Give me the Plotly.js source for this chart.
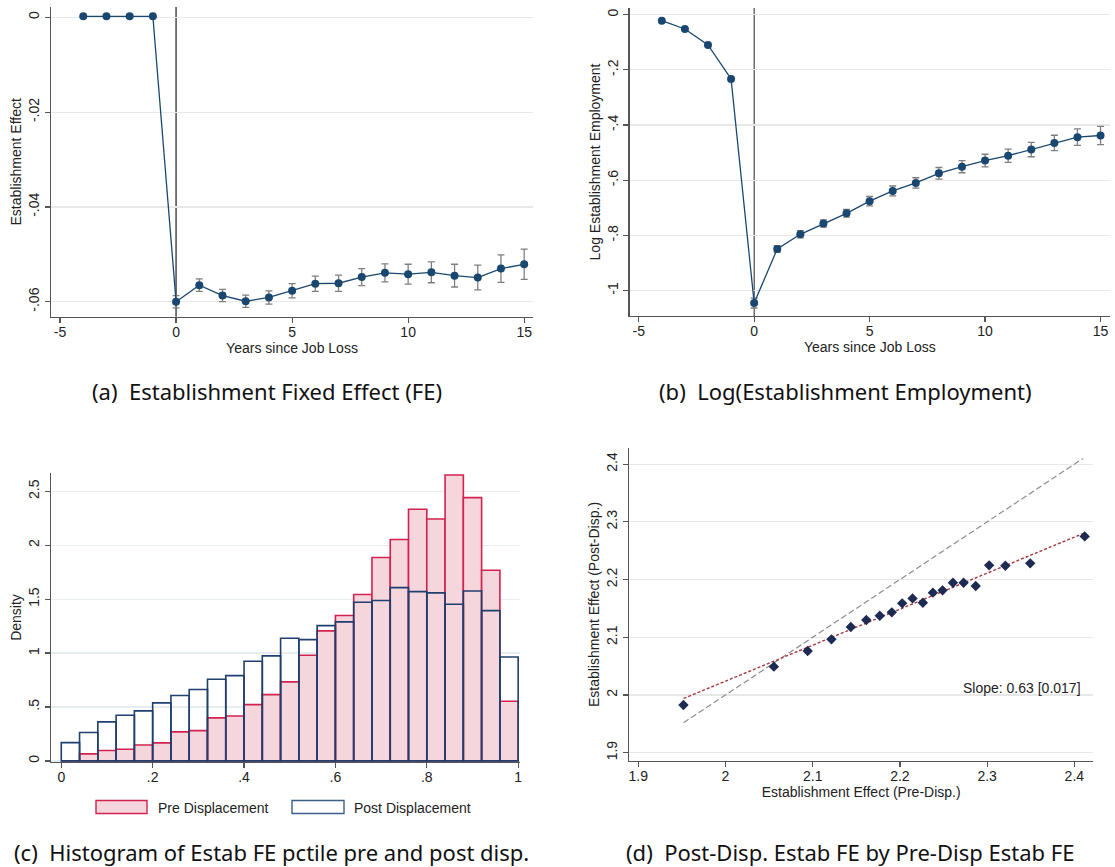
<!DOCTYPE html>
<html>
<head>
<meta charset="utf-8">
<script src="https://cdn.plot.ly/plotly-3.0.1.min.js"></script>
<style>
  html, body { margin: 0; padding: 0; background: #fff; }
  #chart { width: 1115px; height: 867px; }
</style>
</head>
<body>
<div id="chart"></div>
<script>
// ---------- Data ----------
// Panels (a) and (b): event-study coefficients by year relative to job loss
const years = [-4, -3, -2, -1, 0, 1, 2, 3, 4, 5, 6, 7, 8, 9, 10, 11, 12, 13, 14, 15];
const estabEffect = [0.0002, 0.0002, 0.0002, 0.0002, -0.0600, -0.0565, -0.0587, -0.0599, -0.0591, -0.0577,
  -0.0562, -0.0561, -0.0548, -0.0539, -0.0542, -0.0538, -0.0545, -0.0549, -0.0530, -0.0521];
const estabEffectCI = [0, 0, 0, 0, 0.0013, 0.0013, 0.0013, 0.0013, 0.0014, 0.0015,
  0.0016, 0.0017, 0.0018, 0.0019, 0.0021, 0.0022, 0.0024, 0.0026, 0.0029, 0.0032];
const logEmployment = [-0.022, -0.052, -0.110, -0.233, -1.045, -0.849, -0.796, -0.757, -0.720, -0.676,
  -0.639, -0.610, -0.575, -0.551, -0.529, -0.511, -0.489, -0.465, -0.444, -0.438];
const logEmploymentCI = [0, 0, 0, 0, 0.018, 0.012, 0.013, 0.013, 0.014, 0.017,
  0.018, 0.019, 0.021, 0.022, 0.023, 0.024, 0.026, 0.028, 0.030, 0.033];
const jobLossYear = 0;

// Panel (c): histogram of establishment FE percentile (bin width 0.04)
const binCenters = [0.02, 0.06, 0.10, 0.14, 0.18, 0.22, 0.26, 0.30, 0.34, 0.38, 0.42, 0.46, 0.50,
  0.54, 0.58, 0.62, 0.66, 0.70, 0.74, 0.78, 0.82, 0.86, 0.90, 0.94, 0.98];
const binWidth = 0.04;
const preDensity = [0, 0.065, 0.096, 0.108, 0.148, 0.167, 0.269, 0.281, 0.399, 0.417, 0.522, 0.615, 0.733,
  0.980, 1.206, 1.348, 1.543, 1.886, 2.053, 2.334, 2.244, 2.652, 2.442, 1.768, 0.553];
const postDensity = [0.170, 0.263, 0.362, 0.424, 0.464, 0.538, 0.606, 0.662, 0.757, 0.791, 0.924, 0.974, 1.138,
  1.125, 1.255, 1.289, 1.471, 1.487, 1.607, 1.570, 1.558, 1.453, 1.576, 1.394, 0.964];

// Panel (d): binned scatter of post- vs pre-displacement establishment FE
const preFE = [1.9518, 2.0555, 2.0942, 2.1215, 2.1437, 2.1615, 2.1769, 2.1907, 2.2026, 2.2145,
  2.2263, 2.2378, 2.2489, 2.2608, 2.2730, 2.2869, 2.3023, 2.3209, 2.3494, 2.4119];
const postFE = [1.9827, 2.0491, 2.0762, 2.0964, 2.1178, 2.1299, 2.1374, 2.1432, 2.1588, 2.1674,
  2.1599, 2.1773, 2.1813, 2.1946, 2.1946, 2.1888, 2.2246, 2.2240, 2.2281, 2.2748];
const fitX = [1.952, 2.412];
const fitY = [1.994, 2.281];
const diagX = [1.952, 2.410];
const diagY = [1.952, 2.410];
const slopeLabel = 'Slope: 0.63 [0.017]';

// Tick labels
const yearTicks = [-5, 0, 5, 10, 15];
const yearTickText = ['-5', '0', '5', '10', '15'];
const effTicks = [0, -0.02, -0.04, -0.06];
const effTickText = ['0', '-.02', '-.04', '-.06'];
const empTicks = [0, -0.2, -0.4, -0.6, -0.8, -1];
const empTickText = ['0', '-.2', '-.4', '-.6', '-.8', '-1'];
const pctTicks = [0, 0.2, 0.4, 0.6, 0.8, 1];
const pctTickText = ['0', '.2', '.4', '.6', '.8', '1'];
const densTicks = [0, 0.5, 1, 1.5, 2, 2.5];
const densTickText = ['0', '.5', '1', '1.5', '2', '2.5'];
const feTicks = [1.9, 2.0, 2.1, 2.2, 2.3, 2.4];
const feTickText = ['1.9', '2', '2.1', '2.2', '2.3', '2.4'];

const captions = [
  '(a)\u00a0 Establishment Fixed Effect (FE)',
  '(b)\u00a0 Log(Establishment Employment)',
  '(c)\u00a0 Histogram of Estab FE pctile pre and post disp.',
  '(d)\u00a0 Post-Disp. Estab FE by Pre-Disp Estab FE'
];
const legendLabels = ['Pre Displacement', 'Post Displacement'];

// ---------- Styling / layout helpers ----------
const W = 1115, H = 867;
const px = v => v / W;
const py = v => 1 - v / H;
const NAVY = '#1a476f';
const AXIS = '#555555';
const TXT = '#222222';
const FONT = 'Liberation Sans, Arial, sans-serif';
const CAPFONT = 'Noto Sans, Open Sans, sans-serif';
const FS = 14;

function xax(domPx, range, vals, text, title, anchor) {
  return {
    domain: [px(domPx[0]), px(domPx[1])], range: range, anchor: anchor,
    tickmode: 'array', tickvals: vals, ticktext: text,
    ticks: 'outside', ticklen: 5, tickwidth: 1.2, tickcolor: AXIS,
    ticklabelstandoff: -3,
    showline: true, linecolor: AXIS, linewidth: 1.4, mirror: false,
    showgrid: false, zeroline: false,
    tickfont: { family: FONT, size: FS, color: TXT },
    title: { text: title, font: { family: FONT, size: FS, color: TXT }, standoff: 0 },
    automargin: false, fixedrange: true
  };
}
function yax(domPx, range, vals, text, title, anchor, gridColor) {
  return {
    domain: [py(domPx[1]), py(domPx[0])], range: range, anchor: anchor,
    tickmode: 'array', tickvals: vals, ticktext: text, tickangle: -90,
    ticks: 'outside', ticklen: 5, tickwidth: 1.2, tickcolor: AXIS,
    showline: true, linecolor: AXIS, linewidth: 1.4, mirror: false,
    showgrid: true, gridcolor: gridColor || '#e8e8e8', gridwidth: 1.2, zeroline: false,
    tickfont: { family: FONT, size: FS, color: TXT },
    title: { text: title, font: { family: FONT, size: FS, color: TXT }, standoff: 1 },
    automargin: false, fixedrange: true
  };
}

const errStyle = arr => ({ type: 'data', array: arr, visible: true, color: '#7f7f7f', thickness: 1.3, width: 3.5 });

const traces = [
  {
    x: years, y: estabEffect, xaxis: 'x', yaxis: 'y', type: 'scatter', mode: 'lines+markers',
    line: { color: NAVY, width: 1.3 }, marker: { color: NAVY, size: 8 },
    error_y: errStyle(estabEffectCI), showlegend: false, hoverinfo: 'skip'
  },
  {
    x: years, y: logEmployment, xaxis: 'x2', yaxis: 'y2', type: 'scatter', mode: 'lines+markers',
    line: { color: NAVY, width: 1.3 }, marker: { color: NAVY, size: 8 },
    error_y: errStyle(logEmploymentCI), showlegend: false, hoverinfo: 'skip'
  },
  {
    x: binCenters, y: preDensity, width: binCenters.map(() => binWidth), xaxis: 'x3', yaxis: 'y3', type: 'bar',
    marker: { color: '#f6d6dd', line: { color: '#d3224f', width: 1.6 } },
    showlegend: false, hoverinfo: 'skip'
  },
  {
    x: binCenters, y: postDensity, width: binCenters.map(() => binWidth), xaxis: 'x3', yaxis: 'y3', type: 'bar',
    marker: { color: 'rgba(0,0,0,0)', line: { color: '#1f3f6e', width: 1.6 } },
    showlegend: false, hoverinfo: 'skip'
  },
  {
    x: diagX, y: diagY, xaxis: 'x4', yaxis: 'y4', type: 'scatter', mode: 'lines',
    line: { color: '#8c8c8c', width: 1.2, dash: '6px,3px' }, showlegend: false, hoverinfo: 'skip'
  },
  {
    x: fitX, y: fitY, xaxis: 'x4', yaxis: 'y4', type: 'scatter', mode: 'lines',
    line: { color: '#a8383e', width: 1.4, dash: '3px,2px' }, showlegend: false, hoverinfo: 'skip'
  },
  {
    x: preFE, y: postFE, xaxis: 'x4', yaxis: 'y4', type: 'scatter', mode: 'markers',
    marker: { symbol: 'diamond', color: '#1d2b52', size: 8 }, showlegend: false, hoverinfo: 'skip'
  }
];

const layout = {
  width: W, height: H,
  margin: { l: 0, r: 0, t: 0, b: 0 },
  paper_bgcolor: '#ffffff', plot_bgcolor: '#ffffff',
  barmode: 'overlay', bargap: 0,
  showlegend: false,
  font: { family: FONT, size: FS, color: TXT },
  xaxis: xax([51, 533], [-5.39, 15.38], yearTicks, yearTickText, 'Years since Job Loss', 'y'),
  yaxis: yax([7, 316.7], [-0.06316, 0.00217], effTicks, effTickText, 'Establishment Effect', 'x'),
  xaxis2: xax([629.7, 1110], [-5.39, 15.41], yearTicks, yearTickText, 'Years since Job Loss', 'y2'),
  yaxis2: yax([8, 316], [-1.092, 0.024], empTicks, empTickText, 'Log Establishment Employment', 'x2'),
  xaxis3: xax([51, 520], [-0.0225, 1.004], pctTicks, pctTickText, '', 'y3'),
  yaxis3: yax([473, 762], [-0.01, 2.67], densTicks, densTickText, 'Density', 'x3', '#e6edf0'),
  xaxis4: xax([629.3, 1093], [1.8897, 2.4214], feTicks, feTickText, 'Establishment Effect (Pre-Disp.)', 'y4'),
  yaxis4: yax([448, 761], [1.8856, 2.428], feTicks, feTickText, 'Establishment Effect (Post-Disp.)', 'x4'),
  shapes: [
    { type: 'line', xref: 'x', yref: 'y domain', x0: jobLossYear, x1: jobLossYear, y0: 0, y1: 1,
      line: { color: '#555555', width: 1.6 }, layer: 'below' },
    { type: 'line', xref: 'x2', yref: 'y2 domain', x0: jobLossYear, x1: jobLossYear, y0: 0, y1: 1,
      line: { color: '#222222', width: 1 }, layer: 'below' },
    // legend keys for panel (c)
    { type: 'rect', xref: 'paper', yref: 'paper', x0: px(96), x1: px(147), y0: py(813.5), y1: py(800.5),
      fillcolor: '#f6d6dd', line: { color: '#d3224f', width: 1.4 } },
    { type: 'rect', xref: 'paper', yref: 'paper', x0: px(292), x1: px(344), y0: py(813.5), y1: py(800.5),
      fillcolor: '#ffffff', line: { color: '#3b5f86', width: 1.4 } }
  ],
  annotations: [
    { xref: 'paper', yref: 'paper', x: px(267), y: py(391), text: captions[0], showarrow: false,
      xanchor: 'center', yanchor: 'middle', font: { family: CAPFONT, size: 22, color: '#111' } },
    { xref: 'paper', yref: 'paper', x: px(846), y: py(391), text: captions[1], showarrow: false,
      xanchor: 'center', yanchor: 'middle', font: { family: CAPFONT, size: 22, color: '#111' } },
    { xref: 'paper', yref: 'paper', x: px(271), y: py(852), text: captions[2], showarrow: false,
      xanchor: 'center', yanchor: 'middle', font: { family: CAPFONT, size: 22, color: '#111' } },
    { xref: 'paper', yref: 'paper', x: px(850), y: py(852), text: captions[3], showarrow: false,
      xanchor: 'center', yanchor: 'middle', font: { family: CAPFONT, size: 22, color: '#111' } },
    { xref: 'paper', yref: 'paper', x: px(156), y: py(807.5), text: legendLabels[0], showarrow: false,
      xanchor: 'left', yanchor: 'middle', font: { family: FONT, size: FS, color: TXT } },
    { xref: 'paper', yref: 'paper', x: px(352), y: py(807.5), text: legendLabels[1], showarrow: false,
      xanchor: 'left', yanchor: 'middle', font: { family: FONT, size: FS, color: TXT } },
    { xref: 'x4', yref: 'y4', x: 2.340, y: 2.0121, text: slopeLabel, showarrow: false,
      xanchor: 'center', yanchor: 'middle', font: { family: FONT, size: FS, color: TXT } }
  ]
};

Plotly.newPlot('chart', traces, layout, { staticPlot: true, displayModeBar: false });
</script>
</body>
</html>
